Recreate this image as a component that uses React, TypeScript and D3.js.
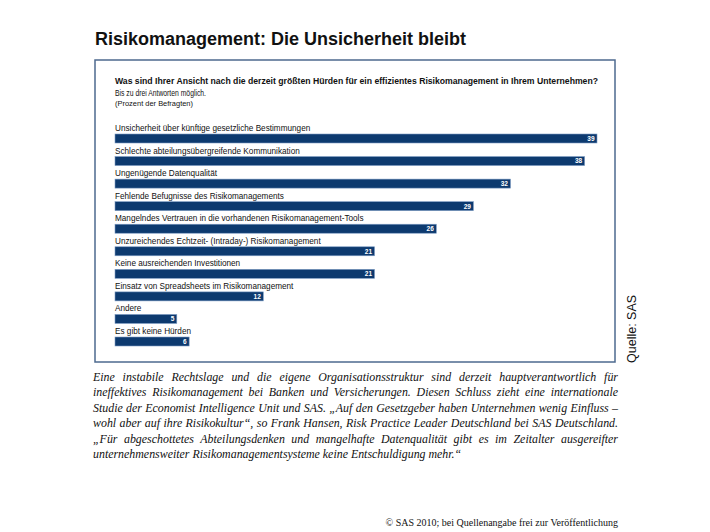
import React, { useEffect, useRef } from "react";
import * as d3 from "d3";

const categories = [
  "Unsicherheit über künftige gesetzliche Bestimmungen",
  "Schlechte abteilungsübergreifende Kommunikation",
  "Ungenügende Datenqualität",
  "Fehlende Befugnisse des Risikomanagements",
  "Mangelndes Vertrauen in die vorhandenen Risikomanagement-Tools",
  "Unzureichendes Echtzeit- (Intraday-) Risikomanagement",
  "Keine ausreichenden Investitionen",
  "Einsatz von Spreadsheets im Risikomanagement",
  "Andere",
  "Es gibt keine Hürden",
];
const values = [39, 38, 32, 29, 26, 21, 21, 12, 5, 6];

const title = "Risikomanagement: Die Unsicherheit bleibt";
const question =
  "Was sind Ihrer Ansicht nach die derzeit größten Hürden für ein effizientes Risikomanagement in Ihrem Unternehmen?";
const subtitle1 = "Bis zu drei Antworten möglich.";
const subtitle2 = "(Prozent der Befragten)";
const source = "Quelle: SAS";
const paragraphLines = [
  "Eine instabile Rechtslage und die eigene Organisationsstruktur sind derzeit hauptverantwortlich für",
  "ineffektives Risikomanagement bei Banken und Versicherungen. Diesen Schluss zieht eine internationale",
  "Studie der Economist Intelligence Unit und SAS. „Auf den Gesetzgeber haben Unternehmen wenig Einfluss –",
  "wohl aber auf ihre Risikokultur“, so Frank Hansen, Risk Practice Leader Deutschland bei SAS Deutschland.",
  "„Für abgeschottetes Abteilungsdenken und mangelhafte Datenqualität gibt es im Zeitalter ausgereifter",
  "unternehmensweiter Risikomanagementsysteme keine Entschuldigung mehr.“",
];
const footer = "© SAS 2010; bei Quellenangabe frei zur Veröffentlichung";

const W = 710;
const H = 532;
const SANS = "'Liberation Sans', Arial, sans-serif";
const SERIF = "'Liberation Serif', 'Times New Roman', serif";

export default function App() {
  const paraRef = useRef<SVGGElement | null>(null);

  const x = d3.scaleLinear().domain([0, 39]).range([115, 597]);
  const y = d3
    .scaleBand<string>()
    .domain(categories)
    .range([134, 346])
    .paddingInner(0.601)
    .paddingOuter(0);

  const paraLeft = 93;
  const paraRight = 618;
  const paraY = d3.scaleLinear().domain([0, 1]).range([381, 396.4]);

  useEffect(() => {
    if (!paraRef.current) return;
    const g = d3.select(paraRef.current);
    g.selectAll<SVGTextElement, string>("text.just").each(function () {
      const el = this as SVGTextElement;
      el.style.wordSpacing = "0px";
      const natural = el.getComputedTextLength();
      const txt = el.textContent || "";
      const spaces = (txt.match(/ /g) || []).length;
      if (spaces > 0) {
        const extra = (paraRight - paraLeft - natural) / spaces;
        el.style.wordSpacing = `${extra}px`;
      }
    });
  }, []);

  return (
    <svg
      width={W}
      height={H}
      style={{ position: "absolute", left: 0, top: 0, background: "#fff" }}
    >
      <rect x={0} y={0} width={W} height={H} fill="#fff" />
      <text
        x={95}
        y={45}
        fontFamily={SANS}
        fontWeight="bold"
        fontSize={18}
        fill="#111"
      >
        {title}
      </text>

      <rect
        x={95}
        y={60}
        width={520}
        height={302}
        fill="#fff"
        stroke="#4d6a8f"
        strokeWidth={1.5}
      />

      <text
        x={115}
        y={84}
        fontFamily={SANS}
        fontWeight="bold"
        fontSize={9.5}
        fill="#111"
        textLength={483}
        lengthAdjust="spacingAndGlyphs"
      >
        {question}
      </text>
      <text
        x={115}
        y={95.5}
        fontFamily={SANS}
        fontSize={9}
        fill="#111"
        textLength={91}
        lengthAdjust="spacingAndGlyphs"
      >
        {subtitle1}
      </text>
      <text
        x={115}
        y={106}
        fontFamily={SANS}
        fontSize={7.8}
        fill="#111"
        textLength={78}
        lengthAdjust="spacingAndGlyphs"
      >
        {subtitle2}
      </text>

      <g>
        {categories.map((c, i) => {
          const top = y(c) as number;
          const v = values[i];
          return (
            <g key={c}>
              <text
                x={115}
                y={top - 3}
                fontFamily={SANS}
                fontSize={8.2}
                fill="#111"
              >
                {c}
              </text>
              <rect
                x={x(0)}
                y={top}
                width={x(v) - x(0)}
                height={y.bandwidth()}
                fill="#0d3a6f"
                stroke="#7d9cc4"
                strokeWidth={0.6}
              />
              <text
                x={x(v) - 2.5}
                y={top + y.bandwidth() / 2 + 2.4}
                textAnchor="end"
                fontFamily={SANS}
                fontWeight="bold"
                fontSize={6.5}
                fill="#fff"
              >
                {v}
              </text>
            </g>
          );
        })}
      </g>

      <text
        transform={`translate(636,363) rotate(-90)`}
        fontFamily={SANS}
        fontSize={12.5}
        fill="#111"
      >
        {source}
      </text>

      <g ref={paraRef}>
        {paragraphLines.map((l, i) => (
          <text
            key={i}
            className={i < paragraphLines.length - 1 ? "just" : "last"}
            x={paraLeft}
            y={paraY(i)}
            fontFamily={SERIF}
            fontStyle="italic"
            fontSize={11.9}
            fill="#111"
          >
            {l}
          </text>
        ))}
      </g>

      <text
        x={618}
        y={526}
        textAnchor="end"
        fontFamily={SERIF}
        fontSize={10}
        fill="#111"
      >
        {footer}
      </text>
    </svg>
  );
}
